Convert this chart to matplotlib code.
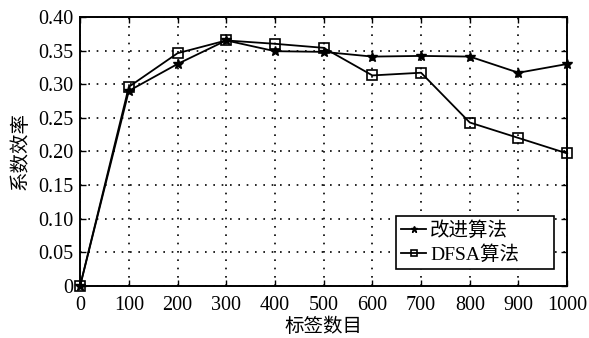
import matplotlib
matplotlib.use('Agg')
import matplotlib.pyplot as plt

plt.rcParams['font.family'] = ['Liberation Serif', 'Noto Sans CJK SC']

# tag counts and system efficiency of each algorithm
tags = [0, 100, 200, 300, 400, 500, 600, 700, 800, 900, 1000]
improved = [0, 0.290, 0.330, 0.365, 0.349, 0.348, 0.341, 0.342, 0.341, 0.317, 0.330]
dfsa = [0, 0.296, 0.346, 0.365, 0.360, 0.354, 0.313, 0.317, 0.243, 0.220, 0.197]

yticks = [0, 0.05, 0.10, 0.15, 0.20, 0.25, 0.30, 0.35, 0.40]
ylabels = ['0', '0.05', '0.10', '0.15', '0.20', '0.25', '0.30', '0.35', '0.40']

fig = plt.figure(figsize=(5.89, 3.38), dpi=100)
ax = fig.add_axes([0.136, 0.154, 0.827, 0.796])

ax.plot(tags, improved, '-', color='black', lw=1.3, marker='*', ms=7,
        label='改进算法', clip_on=False, zorder=3)
ax.plot(tags, dfsa, '-', color='black', lw=1.3, marker='s', ms=7,
        mfc='none', mew=1.2, label='DFSA算法', clip_on=False, zorder=3)

ax.set_xlim(0, 1000)
ax.set_ylim(0, 0.40)
ax.set_xticks(tags)
ax.set_yticks(yticks)
ax.set_yticklabels(ylabels)
ax.tick_params(direction='in', length=4, width=1, top=True, right=True,
               labelsize=14.5)
ax.tick_params(axis='x', pad=7)
ax.tick_params(axis='y', pad=5)
ax.grid(True, color='black', ls=(0, (1, 4)), lw=1.2)
for s in ax.spines.values():
    s.set_linewidth(1.4)

ax.set_xlabel('标签数目', fontsize=14, labelpad=2)
ax.set_ylabel('系数效率', fontsize=14, labelpad=6)

leg = ax.legend(loc='lower left', bbox_to_anchor=(0.649, 0.063, 0.324, 0.22),
                mode='expand', fontsize=14,
                handlelength=1.3, handletextpad=0.2, borderpad=0.25,
                labelspacing=0.3, fancybox=False, framealpha=1,
                edgecolor='black', markerscale=0.7, borderaxespad=0)
leg.get_frame().set_linewidth(1.2)

fig.savefig('out.png', dpi=100)
